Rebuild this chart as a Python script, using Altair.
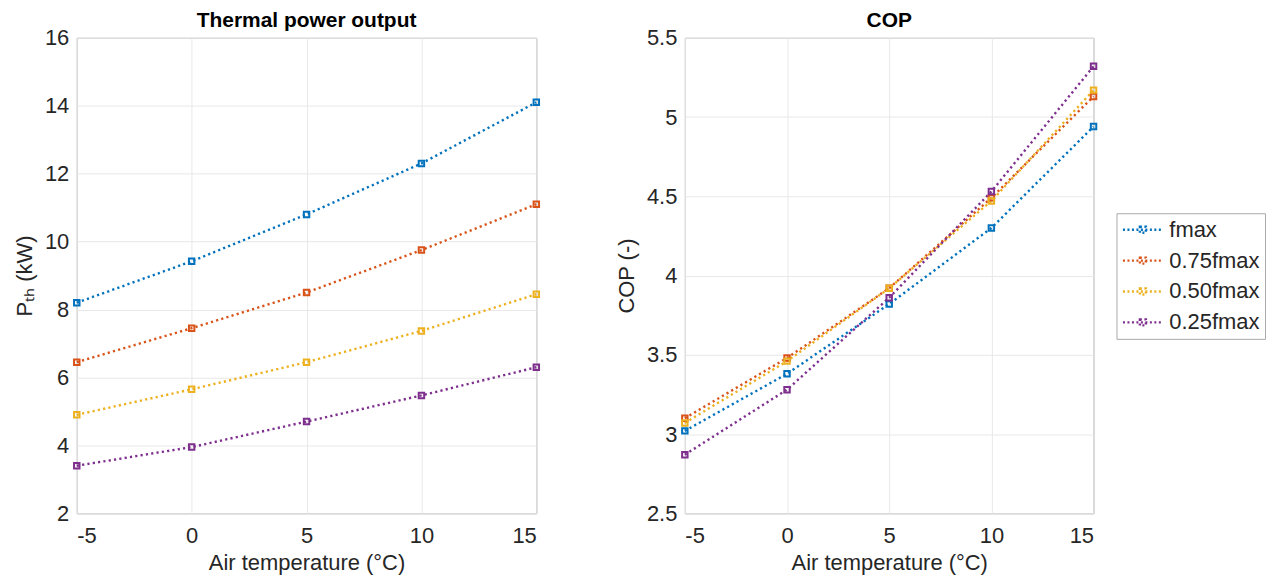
import altair as alt
import pandas as pd

temps = [-5, 0, 5, 10, 15]
series = ["fmax", "0.75fmax", "0.50fmax", "0.25fmax"]
colors = ["#0072BD", "#D95319", "#EDB120", "#7E2F8E"]

pth_fmax = [8.2, 9.42, 10.8, 12.3, 14.1]
pth_075 = [6.45, 7.45, 8.5, 9.75, 11.1]
pth_050 = [4.9, 5.65, 6.45, 7.37, 8.45]
pth_025 = [3.4, 3.95, 4.7, 5.47, 6.3]

cop_fmax = [3.02, 3.38, 3.82, 4.30, 4.94]
cop_075 = [3.10, 3.48, 3.92, 4.49, 5.13]
cop_050 = [3.07, 3.46, 3.92, 4.47, 5.17]
cop_025 = [2.87, 3.28, 3.86, 4.53, 5.32]

rows = []
for name, p, c in zip(series, [pth_fmax, pth_075, pth_050, pth_025],
                      [cop_fmax, cop_075, cop_050, cop_025]):
    for t, pv, cv in zip(temps, p, c):
        rows.append({"T": t, "series": name, "P": pv, "COP": cv})
df = pd.DataFrame(rows)

FONT = "Liberation Sans"
TXT = "#262626"
LABEL_EXPR = "datum.value < 0 ? '-' + format(-datum.value, '~g') : format(datum.value, '~g')"

color_scale = alt.Scale(domain=series, range=colors)

x_enc = alt.X("T:Q", scale=alt.Scale(domain=[-5, 15], nice=False),
              axis=alt.Axis(values=temps, title="Air temperature (°C)",
                            labelExpr=LABEL_EXPR, labelPadding=12))

legend_symbol = "M-1,0L3,0M0.7,-0.3L1.3,-0.3L1.3,0.3L0.7,0.3Z"


def panel(field, ydom, yvals, ytitle, title, w, show_legend):
    if show_legend:
        leg = alt.Legend(title=None, orient="none", legendX=433, legendY=176,
                         symbolType=legend_symbol, symbolSize=400,
                         symbolStrokeWidth=2.4, symbolDash=[2, 2.5],
                         labelFontSize=22, labelFont=FONT, labelColor=TXT,
                         rowPadding=8, strokeColor="#aaaaaa", padding=5,
                         fillColor="white", labelOffset=25, labelLimit=300)
    else:
        leg = None
    col = alt.Color("series:N", scale=color_scale, sort=series, legend=leg)
    y_enc = alt.Y(f"{field}:Q", scale=alt.Scale(domain=ydom, nice=False),
                  axis=alt.Axis(values=yvals, title=ytitle, labelExpr=LABEL_EXPR))
    base = alt.Chart(df).encode(x=x_enc, y=y_enc, color=col, detail="series:N")
    line = base.mark_line(strokeDash=[2.2, 3.2], strokeWidth=2.4)
    pts = base.mark_point(shape="square", filled=False, size=30, strokeWidth=2,
                          opacity=1)
    return alt.layer(line, pts).properties(
        width=w, height=477,
        title=alt.TitleParams(title, fontSize=21, fontWeight="bold", font=FONT,
                              color="black", offset=-4))


left = panel("P", [2, 16], [2, 4, 6, 8, 10, 12, 14, 16], "Pₜₕ (kW)",
             "Thermal power output", 461, False)
right = panel("COP", [2.5, 5.5], [2.5, 3, 3.5, 4, 4.5, 5, 5.5], "COP (-)",
              "COP", 410, True)

chart = alt.hconcat(left, right, spacing=70).resolve_legend(
    color="independent"
).configure(padding={"left": 5, "top": 0, "right": 0, "bottom": 0},
            background="white").configure_view(
    stroke="#9a9a9a", strokeWidth=1
).configure_axis(
    labelFont=FONT, labelFontSize=22, labelColor=TXT,
    titleFont=FONT, titleFontSize=22, titleColor=TXT, titleFontWeight="normal",
    gridColor="#e8e8e8", grid=True, domain=False, ticks=False,
    labelPadding=8
).configure_axisX(titlePadding=6).configure_axisY(titlePadding=8)

chart.save("out.html", embed_options={"renderer": "svg", "actions": False})
